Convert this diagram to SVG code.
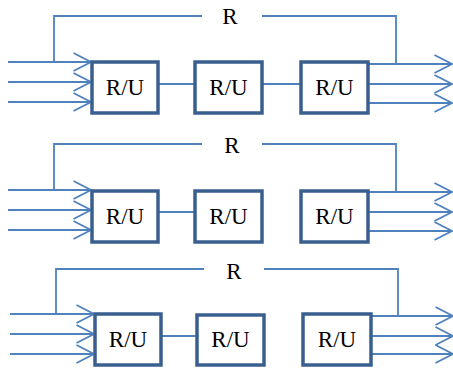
<svg xmlns="http://www.w3.org/2000/svg" width="453" height="369" viewBox="0 0 453 369">
  <style>
    .wire { fill: none; stroke: #4F81BD; stroke-width: 1.8; }
    .flow { fill: none; stroke: #4F81BD; stroke-width: 1.8; marker-end: url(#chev); }
    .box { fill: #FFFFFF; stroke: #3A5F8F; stroke-width: 3.5; }
    .lbl { font-family: "Liberation Serif", "Times New Roman", serif; font-size: 23px; fill: #000000; text-anchor: middle; }
  </style>
  <defs>
    <!-- open chevron arrowhead -->
    <marker id="chev" markerUnits="userSpaceOnUse" markerWidth="20" markerHeight="20" refX="18" refY="9.5" orient="auto" overflow="visible">
      <path d="M0.5,0.5 L18,9.5 L0.5,18.5" fill="none" stroke="#4F81BD" stroke-width="1.8"/>
    </marker>
  </defs>

  <!-- connectors -->
  <g id="connectors">
    <!-- row 1 -->
    <path class="wire" d="M54,62 V16 H202"/>
    <path class="wire" d="M262,16 H396 V64"/>
    <path class="flow" d="M8,62 H91"/>
    <path class="flow" d="M8,82 H91"/>
    <path class="flow" d="M8,102 H91"/>
    <path class="wire" d="M158,84 H195"/>
    <path class="wire" d="M262,84 H301"/>
    <path class="flow" d="M368,64 H452"/>
    <path class="flow" d="M368,84 H452"/>
    <path class="flow" d="M368,103 H452"/>
    <!-- row 2 -->
    <path class="wire" d="M54,190 V144 H202"/>
    <path class="wire" d="M262,144 H396 V192"/>
    <path class="flow" d="M8,190 H91"/>
    <path class="flow" d="M8,210 H91"/>
    <path class="flow" d="M8,230 H91"/>
    <path class="wire" d="M158,212 H195"/>
    <path class="flow" d="M368,192 H452"/>
    <path class="flow" d="M368,212 H452"/>
    <path class="flow" d="M368,231 H452"/>
    <!-- row 3 -->
    <path class="wire" d="M56,314 V269 H204"/>
    <path class="wire" d="M264,269 H398 V316"/>
    <path class="flow" d="M10,314 H94"/>
    <path class="flow" d="M10,334 H94"/>
    <path class="flow" d="M10,354 H94"/>
    <path class="wire" d="M161,336 H197"/>
    <path class="flow" d="M371,316 H453"/>
    <path class="flow" d="M371,336 H453"/>
    <path class="flow" d="M371,354 H453"/>
  </g>

  <!-- loop labels -->
  <g id="r1"><text class="lbl" x="230" y="24">R</text></g>
  <g id="r2"><text class="lbl" x="232" y="153">R</text></g>
  <g id="r3"><text class="lbl" x="234" y="279">R</text></g>

  <!-- row 1 units -->
  <g id="u11"><rect class="box" x="92" y="62" width="66" height="51"/><text class="lbl" x="125" y="95">R/U</text></g>
  <g id="u12"><rect class="box" x="195" y="62" width="67" height="51"/><text class="lbl" x="228.5" y="95">R/U</text></g>
  <g id="u13"><rect class="box" x="301" y="62" width="67" height="51"/><text class="lbl" x="334.5" y="95">R/U</text></g>

  <!-- row 2 units -->
  <g id="u21"><rect class="box" x="92" y="191" width="66" height="51"/><text class="lbl" x="125" y="224">R/U</text></g>
  <g id="u22"><rect class="box" x="195" y="191" width="67" height="51"/><text class="lbl" x="228.5" y="224">R/U</text></g>
  <g id="u23"><rect class="box" x="301" y="191" width="67" height="51"/><text class="lbl" x="334.5" y="224">R/U</text></g>

  <!-- row 3 units -->
  <g id="u31"><rect class="box" x="95" y="314" width="66" height="51"/><text class="lbl" x="128" y="347">R/U</text></g>
  <g id="u32"><rect class="box" x="197" y="315" width="67" height="50"/><text class="lbl" x="230.5" y="347">R/U</text></g>
  <g id="u33"><rect class="box" x="303" y="314" width="68" height="51"/><text class="lbl" x="337" y="347">R/U</text></g>
</svg>
